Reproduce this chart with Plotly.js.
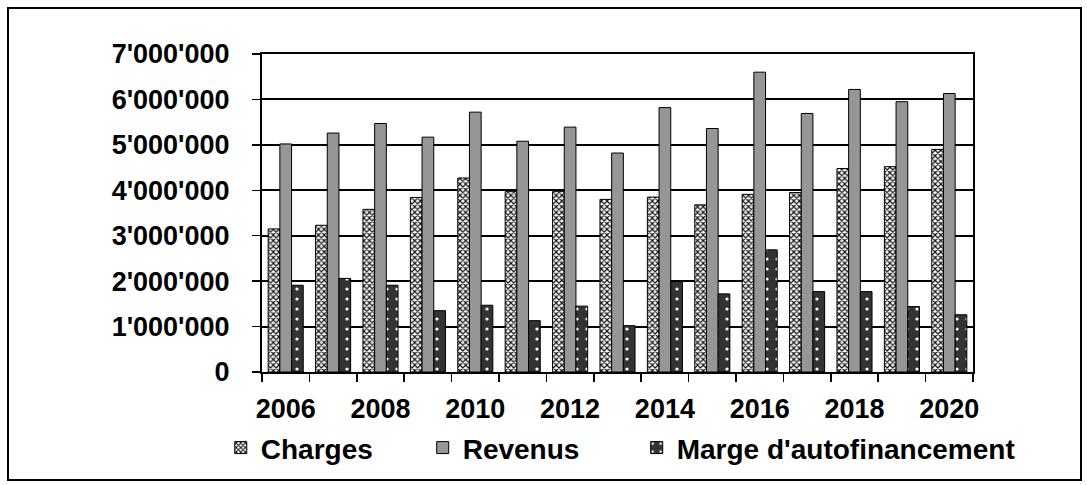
<!DOCTYPE html>
<html>
<head>
<meta charset="utf-8">
<script src="https://cdn.plot.ly/plotly-3.0.1.min.js"></script>
<style>
  html, body { margin: 0; padding: 0; background: #fff; }
  #wrap { position: relative; width: 1087px; height: 485px; }
  #chart { width: 1087px; height: 485px; }
  #frame { position: absolute; left: 7px; top: 7px; width: 1071px; height: 470px;
           border: 2px solid #000; pointer-events: none; }
</style>
</head>
<body>
<div id="wrap">
  <div id="chart"></div>
  <div id="frame"></div>
</div>
<script>
const years = [2006, 2007, 2008, 2009, 2010, 2011, 2012, 2013, 2014, 2015, 2016, 2017, 2018, 2019, 2020];
const charges = [3150000, 3230000, 3580000, 3840000, 4270000, 3970000, 3970000, 3800000, 3850000, 3680000, 3910000, 3950000, 4480000, 4520000, 4900000];
const revenus = [5020000, 5260000, 5470000, 5170000, 5720000, 5080000, 5390000, 4820000, 5820000, 5360000, 6600000, 5690000, 6220000, 5950000, 6130000];
const marge = [1910000, 2060000, 1910000, 1350000, 1470000, 1130000, 1450000, 1020000, 1990000, 1720000, 2690000, 1770000, 1770000, 1440000, 1260000];
const labelYears = [2006, 2008, 2010, 2012, 2014, 2016, 2018, 2020];
const yTicks = [0, 1000000, 2000000, 3000000, 4000000, 5000000, 6000000, 7000000];
const seriesNames = ["Charges", "Revenus", "Marge d'autofinancement"];

const fontFam = '"Liberation Sans", Arial, sans-serif';

const traces = [
  {
    type: 'bar', name: seriesNames[0], x: years, y: charges, legend: 'legend',
    marker: {
      color: '#ffffff',
      line: { color: '#000', width: 1 },
      pattern: { shape: 'x', fgcolor: '#111', bgcolor: '#ffffff', size: 4, solidity: 0.5, fillmode: 'replace' }
    }
  },
  {
    type: 'bar', name: seriesNames[1], x: years, y: revenus, legend: 'legend2',
    marker: { color: '#969696', line: { color: '#000', width: 1 } }
  },
  {
    type: 'bar', name: seriesNames[2], x: years, y: marge, legend: 'legend3',
    marker: {
      color: '#333333',
      line: { color: '#000', width: 1 },
      pattern: { shape: '.', fgcolor: '#ffffff', bgcolor: '#333333', size: 10, solidity: 0.08, fillmode: 'replace' }
    }
  }
];

function legendAt(xPaper) {
  return {
    orientation: 'h',
    x: xPaper, xanchor: 'left',
    y: -0.16, yanchor: 'top',
    font: { family: fontFam, size: 28, color: '#000', weight: 700 },
    itemwidth: 30,
    bgcolor: 'rgba(0,0,0,0)'
  };
}

const layout = {
  width: 1087, height: 485,
  margin: { l: 262, r: 114, t: 54, b: 105, pad: 0 },
  paper_bgcolor: '#fff', plot_bgcolor: '#fff',
  separators: ".'",
  barmode: 'group',
  bargap: 0.26,
  bargroupgap: 0,
  showlegend: true,
  font: { family: fontFam, color: '#000', size: 25, weight: 700 },
  xaxis: {
    type: 'linear',
    range: [2005.5, 2020.5],
    tickvals: labelYears,
    ticktext: labelYears.map(String),
    ticks: 'outside', ticklen: 0, tickcolor: '#000',
    minor: { tick0: 2005.5, dtick: 1, ticks: 'outside', ticklen: 8, tickcolor: '#000', tickwidth: 1.5, showgrid: false },
    showgrid: false, zeroline: false,
    showline: true, linecolor: '#000', linewidth: 2, mirror: true,
    tickfont: { family: fontFam, size: 27, color: '#000', weight: 700 },
    ticklabelstandoff: 12,
    fixedrange: true
  },
  yaxis: {
    range: [0, 7000000],
    tickvals: yTicks,
    tickformat: ',d',
    ticks: 'outside', ticklen: 8, tickcolor: '#000', tickwidth: 1.5,
    showgrid: true, gridcolor: '#000', gridwidth: 2,
    zeroline: false,
    showline: true, linecolor: '#000', linewidth: 2, mirror: true,
    tickfont: { family: fontFam, size: 27, color: '#000', weight: 700 },
    ticklabelstandoff: 17,
    fixedrange: true
  },
  legend: legendAt(-0.058),
  legend2: legendAt(0.226),
  legend3: legendAt(0.527)
};

Plotly.newPlot('chart', traces, layout, { displayModeBar: false, staticPlot: true });
</script>
</body>
</html>
